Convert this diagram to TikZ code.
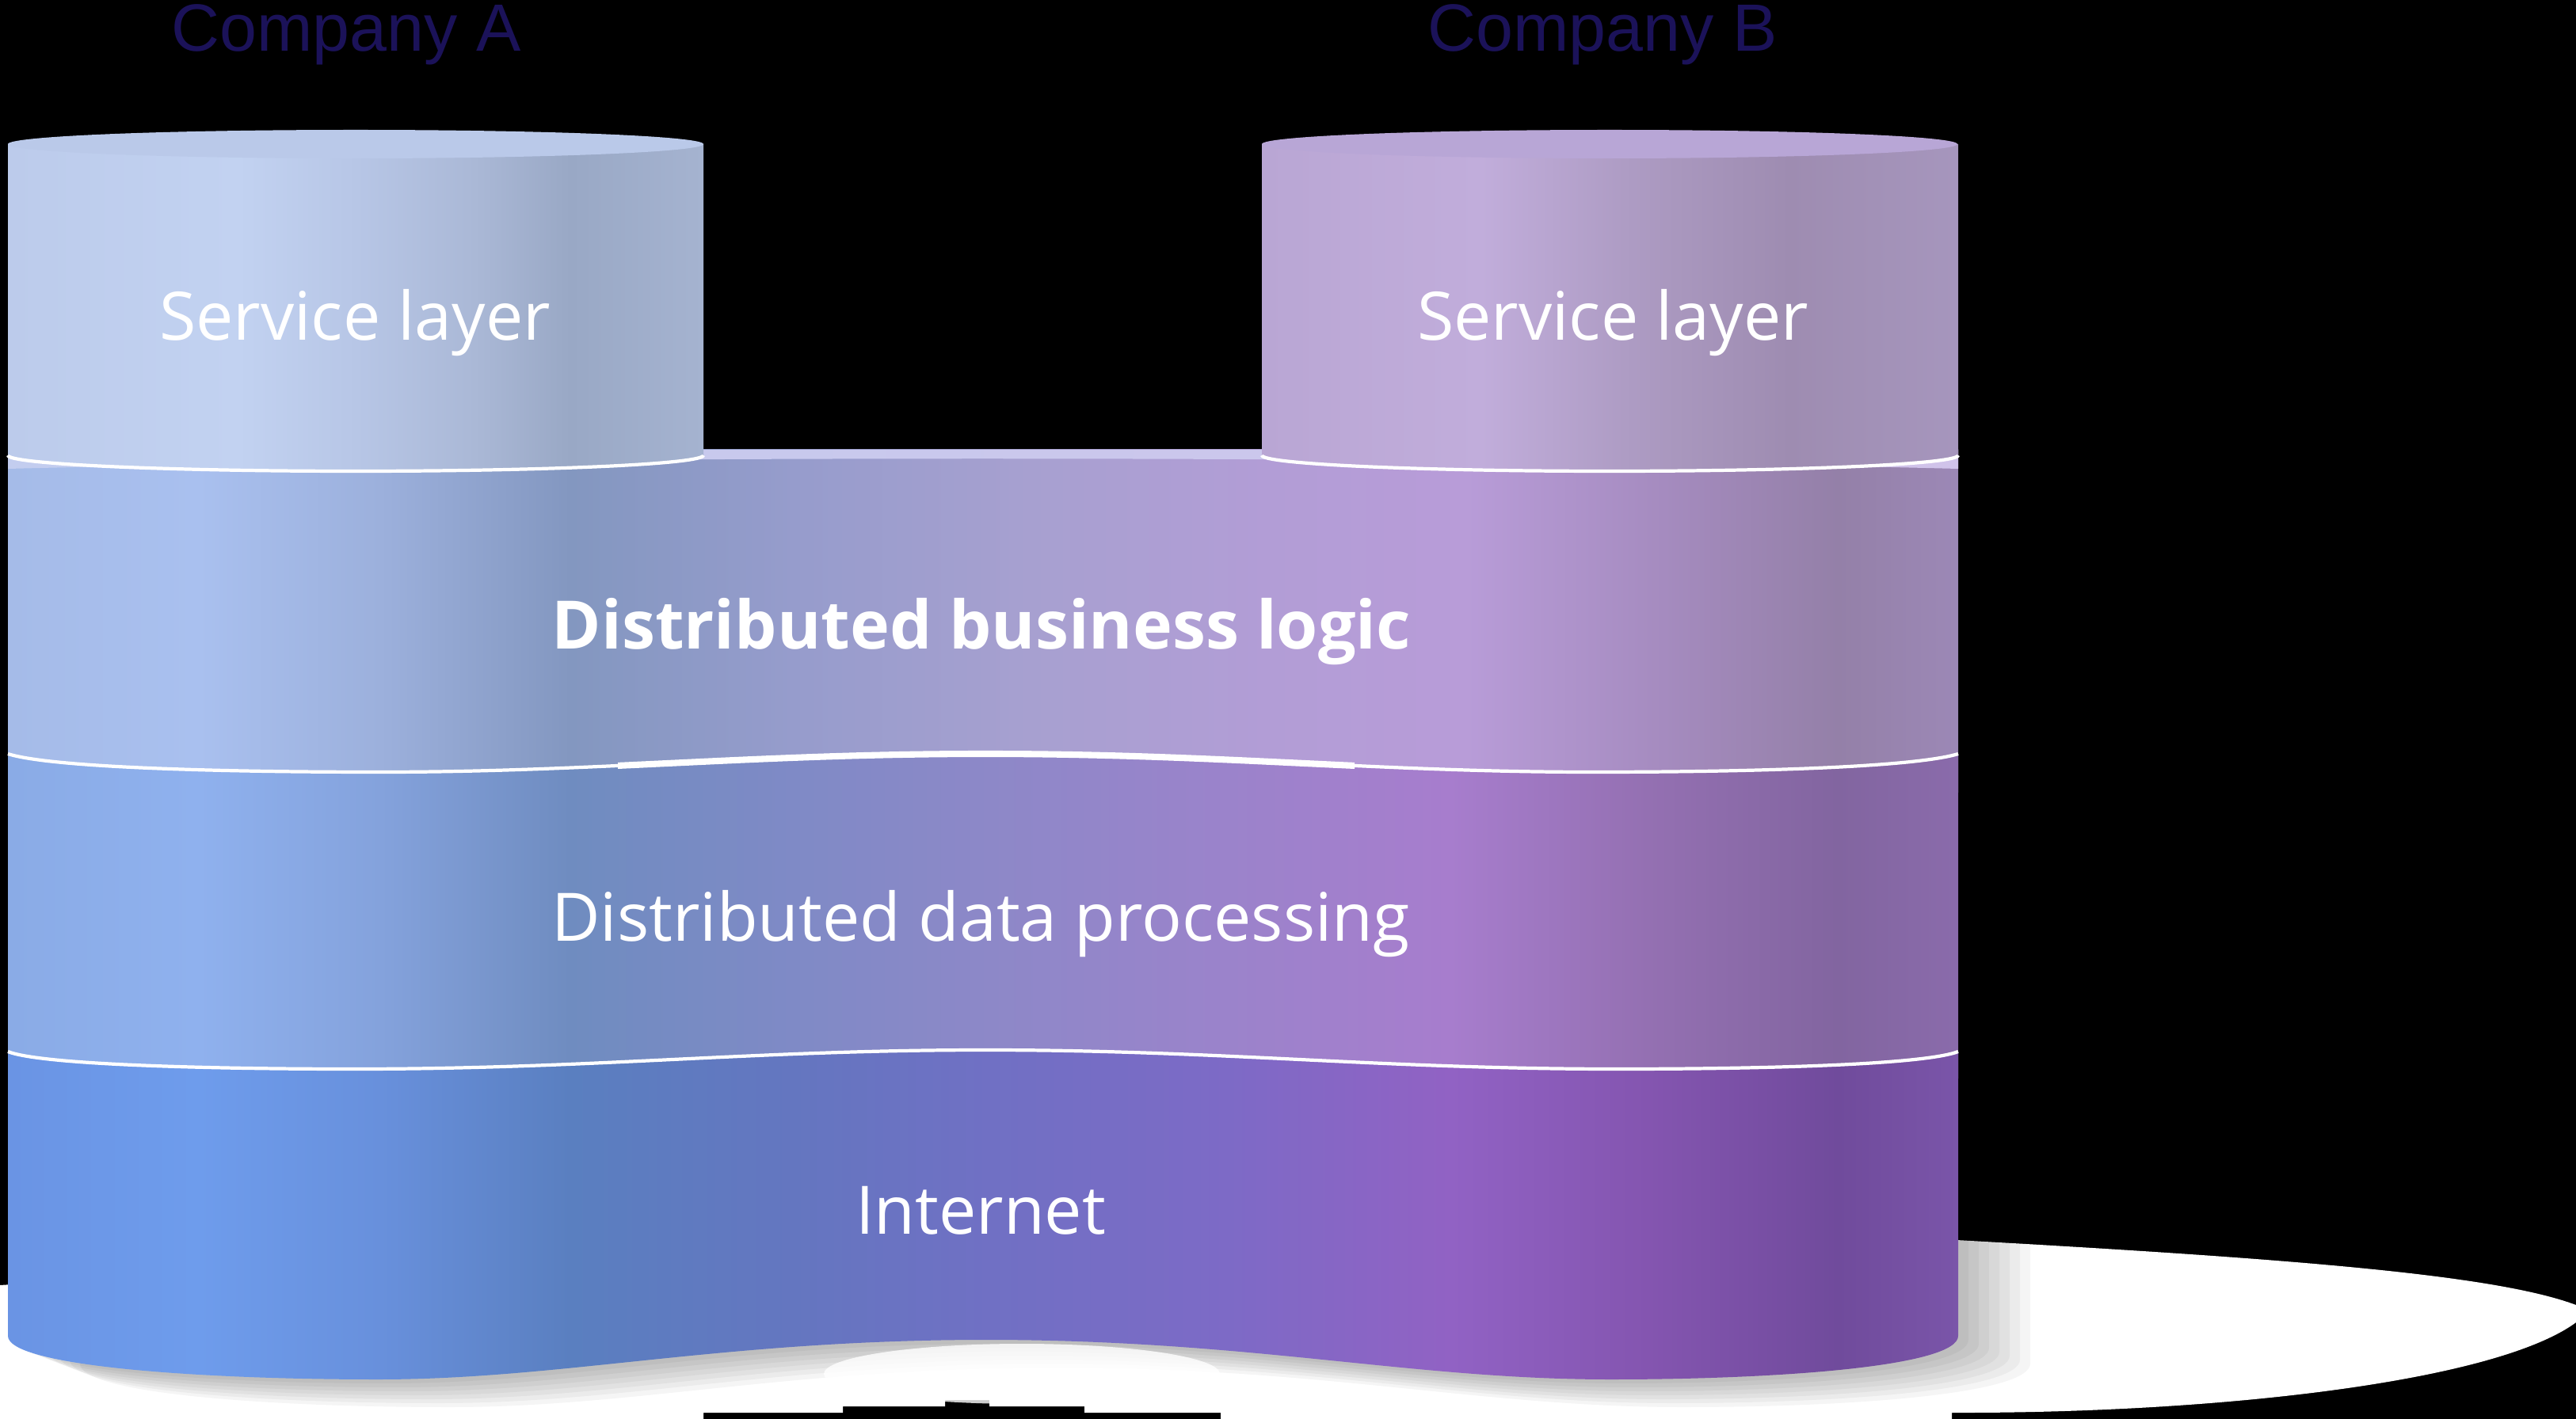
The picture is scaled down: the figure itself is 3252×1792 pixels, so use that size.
\documentclass[tikz,border=0pt]{standalone}
\usepackage{fontspec}
\setmainfont{Open Sans}
\newfontfamily\compfont{Liberation Sans}

\definecolor{compcol}{HTML}{1B1259}
% layer 1 (business logic)
\definecolor{lAa}{HTML}{A5BBE8}\definecolor{lAb}{HTML}{A9C0EF}\definecolor{lAc}{HTML}{9CB0DC}
\definecolor{lAd}{HTML}{8397C0}\definecolor{lAe}{HTML}{969CCC}\definecolor{lAf}{HTML}{A7A0D0}
\definecolor{lAg}{HTML}{B29DD6}\definecolor{lAh}{HTML}{B89CD8}\definecolor{lAi}{HTML}{A58BBF}
\definecolor{lAj}{HTML}{9480A8}\definecolor{lAk}{HTML}{9C88B6}
% layer 2 (data processing)
\definecolor{lBa}{HTML}{8AABE6}\definecolor{lBb}{HTML}{8FB1EE}\definecolor{lBc}{HTML}{84A2DC}
\definecolor{lBd}{HTML}{6F8CC0}\definecolor{lBe}{HTML}{7F8AC6}\definecolor{lBf}{HTML}{8D88C8}
\definecolor{lBg}{HTML}{9B83CB}\definecolor{lBh}{HTML}{A77DCD}\definecolor{lBi}{HTML}{9470B2}
\definecolor{lBj}{HTML}{8265A0}\definecolor{lBk}{HTML}{8A6BAB}
% layer 3 (internet)
\definecolor{lCa}{HTML}{6A94E4}\definecolor{lCb}{HTML}{6E9CEC}\definecolor{lCc}{HTML}{6890DC}
\definecolor{lCd}{HTML}{5A7FC0}\definecolor{lCe}{HTML}{6476C0}\definecolor{lCf}{HTML}{7070C4}
\definecolor{lCg}{HTML}{7D6AC6}\definecolor{lCh}{HTML}{9162C4}\definecolor{lCi}{HTML}{8455B0}
\definecolor{lCj}{HTML}{704B9C}\definecolor{lCk}{HTML}{7A55A9}
% cylinders
\definecolor{cyAa}{HTML}{BCCBEB}\definecolor{cyAb}{HTML}{C2D2F1}\definecolor{cyAc}{HTML}{B7C6E6}
\definecolor{cyAd}{HTML}{AAB8D6}\definecolor{cyAe}{HTML}{99A8C5}\definecolor{cyAf}{HTML}{A5B3D0}
\definecolor{cyBa}{HTML}{B9A6D4}\definecolor{cyBb}{HTML}{C1ADDB}\definecolor{cyBc}{HTML}{AE9CC4}
\definecolor{cyBd}{HTML}{9E8CB1}\definecolor{cyBe}{HTML}{A696BD}
\definecolor{topA}{HTML}{BAC9E9}\definecolor{topB}{HTML}{B8A6D6}
\definecolor{slabTopL}{HTML}{C3CDEF}\definecolor{slabTopR}{HTML}{D0C3EA}

\pgfdeclarehorizontalshading{shLa}{100bp}{color(0bp)=(lAa); color(25bp)=(lAa); color(29.87bp)=(lAb); color(34.55bp)=(lAc); color(39.42bp)=(lAd); color(45.11bp)=(lAe); color(51.2bp)=(lAf); color(57.29bp)=(lAg); color(62.37bp)=(lAh); color(67.45bp)=(lAi); color(71.91bp)=(lAj); color(75bp)=(lAk); color(100bp)=(lAk)}
\pgfdeclarehorizontalshading{shLb}{100bp}{color(0bp)=(lBa); color(25bp)=(lBa); color(29.87bp)=(lBb); color(34.55bp)=(lBc); color(39.42bp)=(lBd); color(45.11bp)=(lBe); color(50.18bp)=(lBf); color(56.28bp)=(lBg); color(61.96bp)=(lBh); color(67.04bp)=(lBi); color(71.91bp)=(lBj); color(75bp)=(lBk); color(100bp)=(lBk)}
\pgfdeclarehorizontalshading{shLc}{100bp}{color(0bp)=(lCa); color(25bp)=(lCa); color(29.87bp)=(lCb); color(34.55bp)=(lCc); color(39.42bp)=(lCd); color(45.11bp)=(lCe); color(50.18bp)=(lCf); color(56.28bp)=(lCg); color(61.96bp)=(lCh); color(67.04bp)=(lCi); color(71.91bp)=(lCj); color(75bp)=(lCk); color(100bp)=(lCk)}
\pgfdeclarehorizontalshading{shCyA}{100bp}{color(0bp)=(cyAa); color(25bp)=(cyAa); color(41.52bp)=(cyAb); color(50.06bp)=(cyAc); color(58.6bp)=(cyAd); color(65.43bp)=(cyAe); color(75bp)=(cyAf); color(100bp)=(cyAf)}
\pgfdeclarehorizontalshading{shCyB}{100bp}{color(0bp)=(cyBa); color(25bp)=(cyBa); color(40.76bp)=(cyBb); color(50.99bp)=(cyBc); color(62.94bp)=(cyBd); color(75bp)=(cyBe); color(100bp)=(cyBe)}

\newcommand\pathWa{(10,952) .. controls (60,968) and (250,975) .. (480,975) .. controls (750,975) and (950,952) .. (1244,952) .. controls (1540,952) and (1740,975) .. (2010,975) .. controls (2230,975) and (2420,968) .. (2472,952)}
\newcommand\pathWb{(10,1328) .. controls (50,1344) and (250,1350) .. (447,1350) .. controls (750,1350) and (950,1326) .. (1244,1326) .. controls (1540,1326) and (1740,1350) .. (2041,1350) .. controls (2240,1350) and (2430,1344) .. (2472,1328)}
\newcommand\pathWbot{(2472,1687) .. controls (2472,1725) and (2250,1742) .. (2033,1742) .. controls (1780,1742) and (1580,1692) .. (1245,1692) .. controls (910,1692) and (710,1742) .. (477,1742) .. controls (250,1742) and (10,1725) .. (10,1687)}

\tikzset{
  lbl/.style={anchor=base, text=white, inner sep=0pt, font=\fontsize{24pt}{28pt}\selectfont},
  comp/.style={anchor=base, text=compcol, inner sep=0pt, font=\compfont\fontsize{24pt}{28pt}\selectfont},
  divline/.style={draw=white, line width=1.2pt},
}

\begin{document}
\begin{tikzpicture}[x=0.01cm, y=-0.01cm]
  % background and frame
  \fill[black] (0,0) rectangle (3252,1792);
  \useasboundingbox (0,0) rectangle (3252,1792);

  % white halo / shadow under the slab
  \fill[white] (0,1623) -- (1000,1560) -- (2470,1566)
     .. controls (2900,1590) and (3150,1610) .. (3252,1648) -- (3252,1670)
     .. controls (3150,1745) and (2800,1785) .. (2464,1784) -- (2464,1792)
     -- (1541,1792) -- (1541,1784) -- (1369,1784) -- (1369,1776) -- (1249,1776)
     -- (1249,1768) -- (1193,1768) -- (1193,1776) -- (1064,1776) -- (1064,1784)
     -- (888,1784) -- (888,1792) -- (0,1792) -- cycle;
  \foreach \k in {1,...,7}
    \fill[black, opacity=0.04, shift={({\k*13},{\k*5})}] (10,1500) -- (2472,1500) -- \pathWbot -- cycle;
  % lighter oval under the middle hump
  \fill[white, opacity=0.8] (1290,1735) ellipse [x radius=250, y radius=38];

  % slab layers
  \shade[shading=shLa] (10,568) rectangle (2472,1000);
  \shade[shading=shLb] \pathWa -- (2472,1362) -- (10,1362) -- cycle;
  \shade[shading=shLc] \pathWb -- \pathWbot -- cycle;
  % slab top face between the cylinders
  \shade[left color=slabTopL, right color=slabTopR] (10,568) -- (2472,568) -- (2472,592)
     .. controls (1800,575) and (680,575) .. (10,592) -- cycle;

  % left cylinder (Company A)
  \shade[shading=shCyA] (10,182) -- (10,575) .. controls (10,586) and (207,595) .. (449,595)
     .. controls (691,595) and (888,586) .. (888,575) -- (888,182) -- cycle;
  \fill[topA] (449,182) ellipse [x radius=439, y radius=18];
  \draw[divline] (10,575) .. controls (10,586) and (207,595) .. (449,595)
     .. controls (691,595) and (888,586) .. (888,575);

  % right cylinder (Company B)
  \shade[shading=shCyB] (1593,182) -- (1593,575) .. controls (1593,586) and (1790,595) .. (2032,595)
     .. controls (2274,595) and (2472,586) .. (2472,575) -- (2472,182) -- cycle;
  \fill[topB] (2032,182) ellipse [x radius=439, y radius=18];
  \draw[divline] (1593,575) .. controls (1593,586) and (1790,595) .. (2032,595)
     .. controls (2274,595) and (2472,586) .. (2472,575);

  % dividing lines
  \draw[divline] \pathWa;
  \begin{scope}
    \clip (780,900) rectangle (1710,1010);
    \draw[white, line width=2.3pt] \pathWa;
  \end{scope}
  \draw[divline] \pathWb;

  % labels
  \node[comp] (compA) at (437,65) {Company A};
  \node[comp] (compB) at (2023,65) {Company B};
  \node[lbl] (svcA) at (448,430) {Service layer};
  \node[lbl] (svcB) at (2036,430) {Service layer};
  \node[lbl, font=\fontsize{24pt}{28pt}\selectfont\bfseries] (logic) at (1239,820) {Distributed business logic};
  \node[lbl] (data) at (1238,1188) {Distributed data processing};
  \node[lbl] (inet) at (1238,1558) {Internet};
\end{tikzpicture}
\end{document}
